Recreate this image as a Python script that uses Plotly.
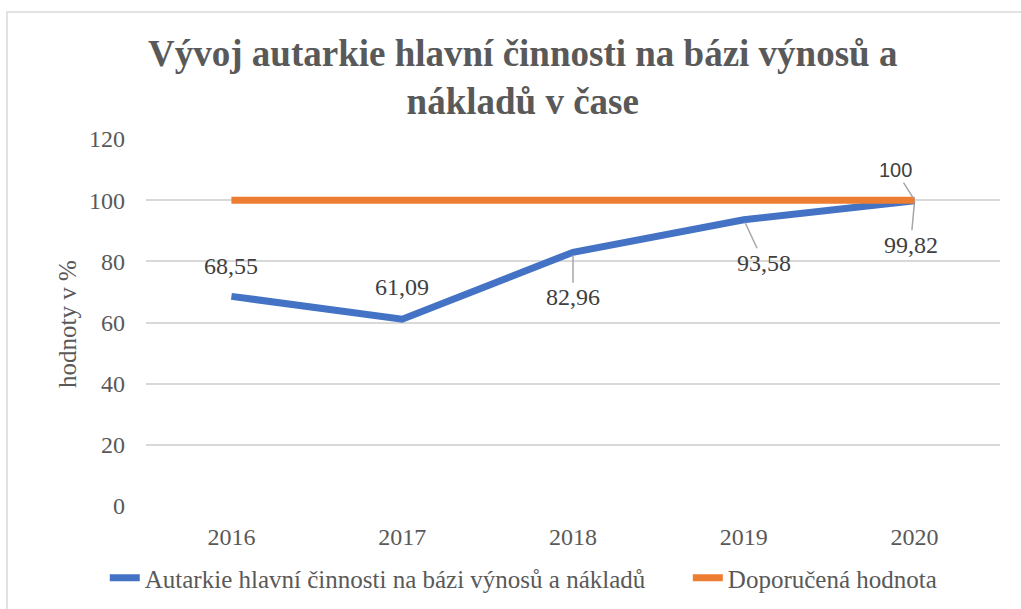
import plotly.graph_objects as go

years = ["2016", "2017", "2018", "2019", "2020"]
autarkie = [68.55, 61.09, 82.96, 93.58, 99.82]
doporucena = [100, 100, 100, 100, 100]
autarkie_labels = ["68,55", "61,09", "82,96", "93,58", "99,82"]

name_autarkie = "Autarkie hlavní činnosti na bázi výnosů a nákladů"
name_doporucena = "Doporučená hodnota"
title_text = "Vývoj autarkie hlavní činnosti na bázi výnosů a<br>nákladů v čase"

SERIF = "Liberation Serif, Tinos, Times New Roman, DejaVu Serif, serif"
GREY = "#595959"
BLUE = "#4472C4"
ORANGE = "#ED7D31"

fig = go.Figure()

fig.add_trace(go.Scatter(
    x=years, y=autarkie, mode="lines",
    # trailing no-break spaces widen the gap between the two legend entries
    name=name_autarkie + "\u00a0" * 6,
    line=dict(color=BLUE, width=7),
))
fig.add_trace(go.Scatter(
    x=years, y=doporucena, mode="lines", name=name_doporucena,
    line=dict(color=ORANGE, width=7),
))

# label placement: plain shift, or (ax, ay) for labels with a leader line
label_pos = [
    dict(showarrow=False, yshift=30),
    dict(showarrow=False, yshift=32),
    dict(showarrow=True, ax=0, ay=45),
    dict(showarrow=True, ax=20, ay=43),
    dict(showarrow=True, ax=-4, ay=44),
]
annotations = []
# category index is used as x, numeric-looking strings would be read as numbers
for i, (y, txt, pos) in enumerate(zip(autarkie, autarkie_labels, label_pos)):
    ann = dict(x=i, y=y, xref="x", yref="y", text=txt,
               font=dict(family=SERIF, size=24, color="#404040"),
               arrowhead=0, arrowwidth=1.5, arrowcolor="#a6a6a6", standoff=3)
    ann.update(pos)
    annotations.append(ann)

# label of the recommended value at the last point
annotations.append(dict(
    x=len(years) - 1, y=doporucena[-1], xref="x", yref="y", text="100",
    font=dict(family="Liberation Sans, Arial, sans-serif", size=20, color="#404040"),
    showarrow=True, ax=-19, ay=-30, arrowhead=0, arrowwidth=1.5,
    arrowcolor="#a6a6a6", standoff=3,
))

# y axis title
annotations.append(dict(
    x=-0.0913, y=0.496, xref="paper", yref="paper", text="hodnoty v %",
    xanchor="center", yanchor="middle",
    textangle=-90, showarrow=False,
    font=dict(family=SERIF, size=25, color=GREY),
))

fig.update_layout(
    width=1021, height=609,
    margin=dict(l=146, r=21, t=139, b=103, autoexpand=False),
    paper_bgcolor="white", plot_bgcolor="white",
    font=dict(family=SERIF),
    title=dict(
        text=title_text, x=0.512, xanchor="center",
        y=1 - 66 / 609, yanchor="top",
        font=dict(family=SERIF, size=37, color=GREY, weight="bold"),
    ),
    xaxis=dict(
        type="category", range=[-0.5, len(years) - 0.5],
        showgrid=False, showline=False, zeroline=False,
        ticks="", ticklabelstandoff=14,
        tickfont=dict(family=SERIF, size=24, color=GREY),
    ),
    yaxis=dict(
        range=[0, 120], dtick=20, showgrid=True, gridcolor="#d9d9d9",
        gridwidth=1.5, zeroline=False, showline=False, ticks="",
        ticklabelstandoff=20,
        tickfont=dict(family=SERIF, size=24, color=GREY),
    ),
    legend=dict(
        orientation="h", xref="container", yref="container",
        x=0.513, xanchor="center", y=1 - 578 / 609, yanchor="middle",
        font=dict(family=SERIF, size=25, color=GREY),
        tracegroupgap=0,
    ),
    showlegend=True,
    annotations=annotations,
    shapes=[dict(
        type="rect", xref="paper", yref="paper",
        x0=-0.1628, x1=1.035, y0=-0.31, y1=1.346,
        line=dict(color="#d9d9d9", width=1.5), fillcolor="rgba(0,0,0,0)",
        layer="below",
    )],
)

# drop the default page margin so the chart sits at the window's corner
fig.write_html("out.html", config={"displayModeBar": False},
               post_script="document.body.style.margin='0px';")
